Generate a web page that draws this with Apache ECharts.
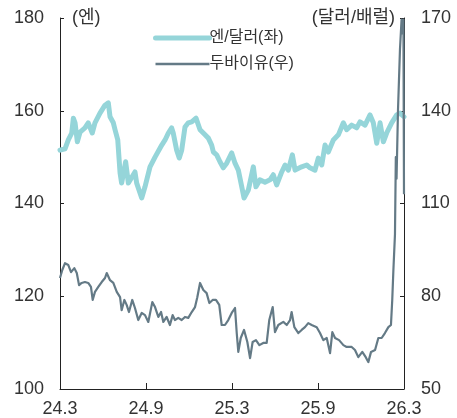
<!DOCTYPE html>
<html>
<head>
<meta charset="utf-8">
<script src="https://cdn.jsdelivr.net/npm/echarts@6/dist/echarts.min.js"></script>
<style>
    html, body { margin: 0; padding: 0; background: #fff; }
    #chart { width: 457px; height: 418px; }
</style>
</head>
<body>
<div id="chart"></div>
<script>
// x = months since 2024.3
const xTickLabels = ['24.3', '24.9', '25.3', '25.9', '26.3'];

// 엔/달러 (left axis)
const yenMonth = [
    0, 0.35, 0.58, 0.82, 0.93, 1.05, 1.21, 1.40, 1.74, 1.97, 2.25, 2.44, 2.79, 3.14, 3.37, 3.49,
    3.72, 3.84, 4.03, 4.19, 4.30, 4.58, 4.77, 5.23, 5.35, 5.70, 5.93, 6.28, 6.63, 7.10, 7.33, 7.56,
    7.79, 7.90, 8.14, 8.32, 8.49, 8.72, 8.95, 9.19, 9.49, 9.77, 10.12, 10.35, 10.58, 10.70, 10.93,
    11.16, 11.39, 11.63, 11.98, 12.21, 12.44, 12.68, 12.84, 13.14, 13.49, 13.67, 13.95, 14.30,
    14.65, 14.88, 15.12, 15.47, 15.70, 15.93, 16.21, 16.40, 16.86, 17.21, 17.44, 17.79, 18.02,
    18.26, 18.49, 18.72, 19.07, 19.42, 19.77, 20.00, 20.35, 20.70, 20.93, 21.28, 21.63, 21.86,
    22.10, 22.33, 22.56, 22.79, 23.14, 23.49, 23.72, 24.00
];
const yenValue = [
    151.5, 151.8, 153.7, 155.2, 158.4, 157.4, 153.3, 155.4, 156.3, 157.4, 155.2, 157.4, 159.5, 161.2, 161.7, 158.7,
    157.4, 155.9, 153.7, 146.6, 144.4, 149.0, 144.4, 146.8, 144.4, 141.2, 143.6, 147.9, 150.0, 152.6, 153.7, 155.2,
    156.3, 155.2, 151.5, 149.8, 151.5, 156.5, 157.4, 157.6, 158.4, 155.9, 154.8, 154.1, 152.6, 151.1, 150.5,
    149.0, 147.7, 148.7, 150.9, 148.7, 147.2, 143.6, 141.2, 142.9, 147.9, 143.6, 145.1, 144.6,
    145.1, 146.2, 144.0, 146.8, 148.3, 147.2, 150.5, 147.2, 147.9, 148.3, 147.7, 147.2, 149.8,
    148.3, 152.6, 151.1, 153.7, 154.8, 157.4, 155.9, 156.9, 156.3, 157.6, 156.9, 159.1, 157.4,
    153.0, 157.4, 153.3, 155.2, 157.4, 159.1, 159.5, 158.7
];

// 두바이유 (right axis)
const oilMonth = [
    0, 0.16, 0.35, 0.58, 0.77, 1.00, 1.17, 1.33, 1.51, 1.74, 1.97, 2.16, 2.28, 2.44, 2.67, 2.91,
    3.14, 3.26, 3.49, 3.72, 3.96, 4.19, 4.30, 4.49, 4.65, 4.81, 5.04, 5.23, 5.46, 5.70, 5.93,
    6.16, 6.44, 6.63, 6.86, 7.05, 7.21, 7.44, 7.67, 7.86, 8.02, 8.25, 8.49, 8.72, 8.95, 9.19,
    9.42, 9.58, 9.77, 10.00, 10.23, 10.42, 10.65, 10.88, 11.11, 11.28, 11.51, 11.74, 11.98,
    12.21, 12.33, 12.44, 12.61, 12.84, 13.07, 13.26, 13.44, 13.67, 13.91, 14.18, 14.42, 14.60,
    14.84, 15.00, 15.23, 15.58, 15.82, 16.05, 16.16, 16.35, 16.63, 16.86, 17.09, 17.32, 17.56,
    17.91, 18.14, 18.37, 18.61, 18.84, 19.00, 19.19, 19.47, 19.77, 20.00, 20.35, 20.58, 20.81,
    21.09, 21.33, 21.51, 21.70, 21.98, 22.21, 22.44, 22.67, 22.91, 23.09, 23.18, 23.26, 23.37,
    23.43, 23.48, 23.58, 23.72, 23.83, 23.90, 23.96, 24.00
];
const oilValue = [
    85.9, 88.5, 90.7, 90.1, 87.8, 89.1, 87.5, 83.6, 84.3, 84.6, 84.3, 83.0, 78.8, 81.4, 83.0, 84.6,
    85.9, 87.5, 85.2, 84.3, 81.4, 79.7, 75.5, 78.8, 77.2, 74.9, 78.8, 76.2, 72.3, 74.6, 73.9,
    71.7, 78.1, 76.5, 73.3, 74.9, 71.7, 73.3, 70.7, 73.9, 72.3, 73.0, 72.3, 73.3, 73.0, 74.9,
    76.5, 79.7, 84.3, 82.0, 81.0, 77.8, 78.8, 78.8, 77.2, 70.7, 70.7, 72.3, 74.6,
    76.2, 68.1, 62.0, 66.5, 69.1, 65.2, 60.0, 65.2, 65.8, 64.2, 64.9, 64.9, 72.3,
    76.5, 68.4, 70.7, 71.7, 70.7, 72.3, 74.9, 70.0, 68.1, 69.1, 70.0, 71.3, 70.7,
    70.0, 68.1, 65.8, 66.5, 61.6, 68.4, 66.5, 65.8, 64.2, 63.6, 63.6, 62.6, 60.3,
    62.0, 60.3, 58.7, 62.0, 62.6, 66.5, 66.5, 68.1, 70.0, 70.7, 78.8, 88.5, 100.0,
    125.0, 118.0, 140.0, 160.0, 169.5, 165.0, 169.5, 113.0
];

const textColor = '#333';
const fontFamily = '"Liberation Sans", "Noto Sans CJK KR", sans-serif';
const yenColor = '#95d5d9';
const oilColor = '#647a86';

const chart = echarts.init(document.getElementById('chart'));

const option = {
    animation: false,
    textStyle: { fontFamily: fontFamily, color: textColor },
    grid: { left: 60, right: 53, top: 18, bottom: 29 },
    legend: {
        orient: 'vertical',
        left: 148,
        top: 25,
        itemWidth: 54,
        itemHeight: 16,
        itemGap: 10,
        icon: 'inherit',
        textStyle: { fontSize: 16, color: textColor, fontFamily: fontFamily, padding: [0, 0, 0, -5] },
        data: [
            {
                name: '엔/달러(좌)',
                itemStyle: { opacity: 0 },
                lineStyle: { width: 5, color: yenColor, cap: 'round' }
            },
            {
                name: '두바이유(우)',
                itemStyle: { opacity: 0 },
                lineStyle: { width: 2.5, color: oilColor }
            }
        ]
    },
    xAxis: {
        type: 'value',
        min: 0,
        max: 24,
        interval: 6,
        axisLine: { lineStyle: { color: '#222', width: 1 } },
        axisTick: { inside: true, length: 6, lineStyle: { color: '#222' } },
        axisLabel: {
            fontSize: 18,
            color: textColor,
            margin: 11,
            formatter: v => xTickLabels[Math.round(v / 6)]
        },
        splitLine: { show: false }
    },
    yAxis: [
        {
            type: 'value',
            min: 100,
            max: 180,
            interval: 20,
            name: '(엔)',
            nameLocation: 'end',
            nameGap: 0,
            nameTextStyle: {
                fontSize: 18, color: textColor, align: 'left', verticalAlign: 'middle',
                padding: [0, 0, 0, 12]
            },
            axisLine: { show: true, lineStyle: { color: '#222', width: 1 } },
            axisTick: { show: true, inside: true, length: 4, lineStyle: { color: '#222' } },
            axisLabel: { fontSize: 18, color: textColor, margin: 16 },
            splitLine: { show: false }
        },
        {
            type: 'value',
            min: 50,
            max: 170,
            interval: 30,
            name: '(달러/배럴)',
            nameLocation: 'end',
            nameGap: 0,
            nameTextStyle: {
                fontSize: 18, color: textColor, align: 'right', verticalAlign: 'middle',
                padding: [0, 9, 0, 0]
            },
            axisLine: { show: true, lineStyle: { color: '#222', width: 1 } },
            axisTick: { show: true, inside: true, length: 4, lineStyle: { color: '#222' } },
            axisLabel: { fontSize: 18, color: textColor, margin: 17 },
            splitLine: { show: false }
        }
    ],
    series: [
        {
            name: '엔/달러(좌)',
            type: 'line',
            yAxisIndex: 0,
            showSymbol: false,
            symbol: 'none',
            lineStyle: { color: yenColor, width: 5, join: 'round', cap: 'round' },
            itemStyle: { color: yenColor },
            data: yenMonth.map((m, i) => [m, yenValue[i]])
        },
        {
            name: '두바이유(우)',
            type: 'line',
            yAxisIndex: 1,
            showSymbol: false,
            symbol: 'none',
            lineStyle: { color: oilColor, width: 2.2, join: 'round' },
            itemStyle: { color: oilColor },
            data: oilMonth.map((m, i) => [m, oilValue[i]])
        }
    ]
};

chart.setOption(option);
</script>
</body>
</html>
